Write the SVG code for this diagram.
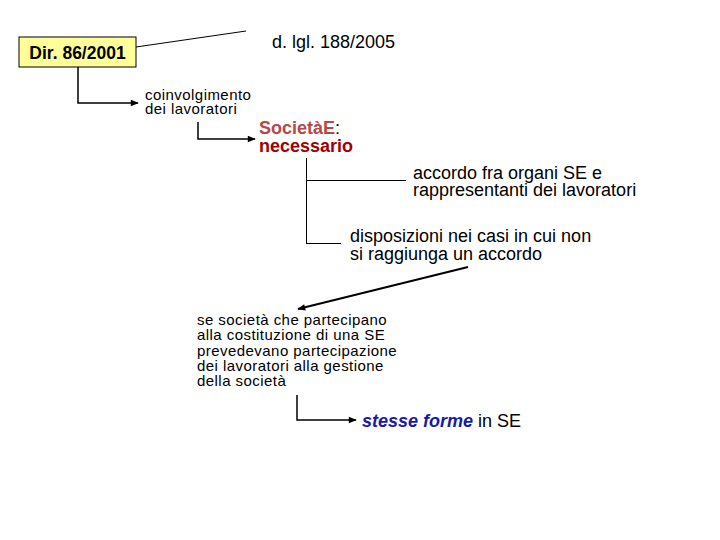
<svg xmlns="http://www.w3.org/2000/svg" width="720" height="540" viewBox="0 0 720 540">
<defs>
<marker id="ahb" viewBox="0 0 10 10" refX="9" refY="5" markerWidth="12" markerHeight="8" markerUnits="userSpaceOnUse" orient="auto"><path d="M0,1 L10,5 L0,9 Z" fill="#000"/></marker>
<style>
text{font-family:"Liberation Sans",Arial,sans-serif;fill:#000}
.t14{font-size:15px;letter-spacing:0.45px}
.t16{font-size:18px}
.c{fill:none;stroke:#000;stroke-width:1.5}
.thin{fill:none;stroke:#000;stroke-width:1;shape-rendering:crispEdges}
</style>
</defs>
<rect width="720" height="540" fill="#fff"/>
<g id="connectors">
<line x1="136" y1="47" x2="246" y2="31" stroke="#000" stroke-width="1"/>
<polyline class="c" points="78,67 78,103 138,103" marker-end="url(#ahb)"/>
<polyline class="c" points="198,122 198,139 255,139" marker-end="url(#ahb)"/>
<line class="thin" x1="306.5" y1="158" x2="306.5" y2="243"/>
<line class="thin" x1="306" y1="180.5" x2="406" y2="180.5"/>
<line class="thin" x1="306" y1="243.5" x2="341" y2="243.5"/>
<line x1="468" y1="267" x2="298" y2="309" stroke="#000" stroke-width="2" marker-end="url(#ahb)"/>
<polyline class="c" points="297,395 297,420 356,420" marker-end="url(#ahb)"/>
</g>
<g id="dir">
<rect x="19" y="37" width="117" height="30" fill="#ffff99" stroke="#000" stroke-width="1"/>
<text x="77.5" y="58.5" text-anchor="middle" style="font-size:17.5px;font-weight:bold">Dir. 86/2001</text>
</g>
<g id="dlgl"><text class="t16" x="272" y="48">d. lgl. 188/2005</text></g>
<g id="coinv"><text class="t14" x="145" y="100">coinvolgimento</text><text class="t14" x="145" y="114">dei lavoratori</text></g>
<g id="societa">
<text x="259" y="134" style="font-size:18px;font-weight:bold"><tspan style="fill:#b84848">SocietàE</tspan><tspan style="font-weight:normal">:</tspan></text>
<text x="259" y="152" style="font-size:18px;font-weight:bold;fill:#a00000">necessario</text>
</g>
<g id="accordo"><text class="t16" x="413" y="179">accordo fra organi SE e</text><text class="t16" x="413" y="196">rappresentanti dei lavoratori</text></g>
<g id="disp"><text class="t16" x="350" y="242">disposizioni nei casi in cui non</text><text class="t16" x="350" y="260">si raggiunga un accordo</text></g>
<g id="se">
<text class="t14" x="197" y="325">se società che partecipano</text>
<text class="t14" x="197" y="340">alla costituzione di una SE</text>
<text class="t14" x="197" y="356">prevedevano partecipazione</text>
<text class="t14" x="197" y="371">dei lavoratori alla gestione</text>
<text class="t14" x="197" y="386">della società</text>
</g>
<g id="stesse"><text class="t16" x="362" y="427"><tspan style="font-weight:bold;font-style:italic;fill:#1a1aa8">stesse forme</tspan> in SE</text></g>
</svg>
